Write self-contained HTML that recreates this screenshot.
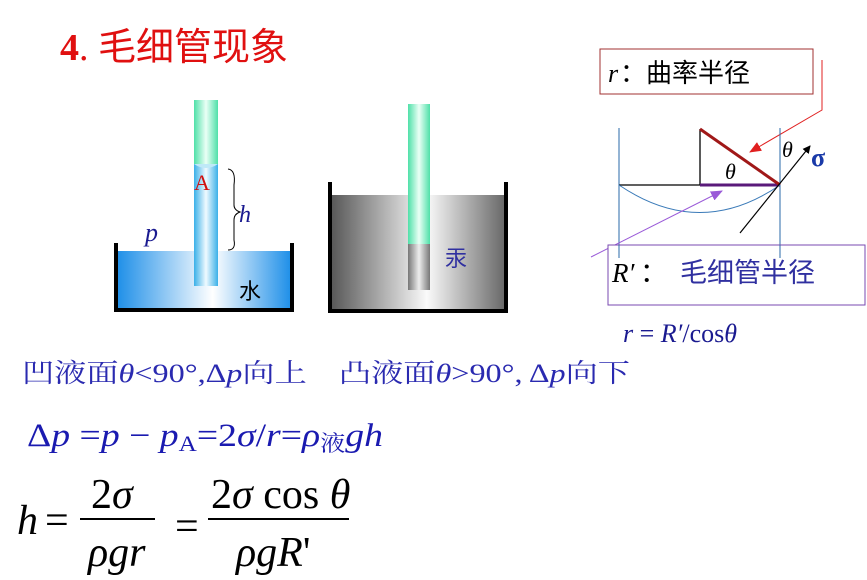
<!DOCTYPE html>
<html><head><meta charset="utf-8"><style>
html,body{margin:0;padding:0;background:#fff;}
svg{display:block;}
.s{font-family:"Liberation Serif","Noto Serif CJK SC",serif;}
.c{font-family:"Liberation Sans","Noto Sans CJK SC",sans-serif;}
</style></head><body>
<svg width="867" height="580" viewBox="0 0 867 580" xmlns="http://www.w3.org/2000/svg">
<defs>
<linearGradient id="water" x1="0" x2="1"><stop offset="0" stop-color="#1e8fe8"/><stop offset="0.55" stop-color="#ffffff"/><stop offset="1" stop-color="#1e8fe8"/></linearGradient>
<linearGradient id="merc" x1="0" x2="1"><stop offset="0" stop-color="#555"/><stop offset="0.55" stop-color="#fafafa"/><stop offset="1" stop-color="#666"/></linearGradient>
<linearGradient id="tubeG" x1="0" x2="1"><stop offset="0" stop-color="#4fe0a8"/><stop offset="0.5" stop-color="#eafff6"/><stop offset="1" stop-color="#4fe0a8"/></linearGradient>
<linearGradient id="tubeB" x1="0" x2="1"><stop offset="0" stop-color="#3ab0e8"/><stop offset="0.5" stop-color="#f0faff"/><stop offset="1" stop-color="#3ab0e8"/></linearGradient>
<linearGradient id="tubeM" x1="0" x2="1"><stop offset="0" stop-color="#777"/><stop offset="0.5" stop-color="#eee"/><stop offset="1" stop-color="#777"/></linearGradient>
<marker id="ar" markerWidth="8" markerHeight="8" refX="7" refY="4" orient="auto" markerUnits="userSpaceOnUse"><path d="M0,0 L8,4 L0,8 z" fill="#000"/></marker>
<marker id="arR" markerWidth="12" markerHeight="10" refX="11" refY="5" orient="auto" markerUnits="userSpaceOnUse"><path d="M0,0 L12,5 L0,10 z" fill="#e02020"/></marker>
<marker id="arP" markerWidth="12" markerHeight="10" refX="11" refY="5" orient="auto" markerUnits="userSpaceOnUse"><path d="M0,0 L12,5 L0,10 z" fill="#9a5ad8"/></marker>
</defs>

<text x="60" y="60" class="s" font-size="38" font-weight="bold" fill="#e01010">4<tspan font-weight="normal">.</tspan> <tspan class="c" font-weight="normal" font-size="38">毛细管现象</tspan></text>

<!-- beaker 1 -->
<rect x="117" y="251" width="174" height="58" fill="url(#water)"/>
<path d="M116,243 V310 H292 V243" fill="none" stroke="#000" stroke-width="4"/>
<rect x="194" y="100" width="24" height="64" fill="url(#tubeG)"/>
<rect x="194" y="164" width="24" height="122" fill="url(#tubeB)"/>
<path d="M194,164 Q206,172 218,164" fill="#bfe9f7" stroke="none"/>
<text x="194" y="190" class="s" font-size="22" fill="#d01010">A</text>
<path d="M228,169 Q236,170 234,185 L234,205 Q234,210 240,212 Q234,214 234,220 L234,240 Q236,250 228,250" fill="none" stroke="#000" stroke-width="1"/>
<text x="239" y="222" class="s" font-style="italic" font-size="24" fill="#1a1a90">h</text>
<text x="145" y="241" class="s" font-style="italic" font-size="26" fill="#1a1a90">p</text>
<text x="239" y="299" class="c" font-size="22" fill="#000">水</text>

<!-- beaker 2 -->
<rect x="330" y="195" width="176" height="114" fill="url(#merc)"/>
<path d="M330,182 V311 H506 V182" fill="none" stroke="#000" stroke-width="4"/>
<rect x="408" y="104" width="22" height="140" fill="url(#tubeG)"/>
<rect x="408" y="244" width="22" height="46" fill="url(#tubeM)"/>
<text x="445" y="266" class="c" font-size="22" fill="#3030a0">汞</text>

<!-- right diagram -->
<rect x="600" y="49" width="213" height="45" fill="#fff" stroke="#a03030" stroke-width="1"/>
<text x="608" y="82" class="s" font-style="italic" font-size="26" fill="#000">r</text>
<text x="620" y="82" class="c" font-size="26" fill="#000">：曲率半径</text>
<path d="M822,60 V110 L750,152" fill="none" stroke="#e02020" stroke-width="1" marker-end="url(#arR)"/>
<line x1="619" y1="128" x2="619" y2="258" stroke="#2a6aa8" stroke-width="1"/>
<line x1="780" y1="128" x2="780" y2="258" stroke="#2a6aa8" stroke-width="1"/>
<line x1="619" y1="185" x2="700" y2="185" stroke="#000" stroke-width="1.3"/>
<line x1="700" y1="129" x2="700" y2="185" stroke="#000" stroke-width="1.3"/>
<line x1="700" y1="185" x2="780" y2="185" stroke="#5a1a7a" stroke-width="3"/>
<line x1="700" y1="129" x2="780" y2="185" stroke="#a01818" stroke-width="3"/>
<path d="M619,185 Q700,240 780,185" fill="none" stroke="#3a7ab8" stroke-width="1"/>
<line x1="740" y1="233" x2="810" y2="146" stroke="#000" stroke-width="1.2" marker-end="url(#ar)"/>
<text x="725" y="179" class="s" font-style="italic" font-size="22" fill="#000">θ</text>
<text x="782" y="157" class="s" font-style="italic" font-size="22" fill="#000">θ</text>
<text x="811" y="166" class="s" font-size="26" font-weight="bold" fill="#1a3aa8">σ</text>
<path d="M591,257 L722,191" fill="none" stroke="#9a5ad8" stroke-width="1" marker-end="url(#arP)"/>
<rect x="608" y="245" width="257" height="60" fill="#fff" stroke="#7a4ab0" stroke-width="1"/>
<line x1="780" y1="245" x2="780" y2="258" stroke="#2a6aa8" stroke-width="1"/>
<line x1="619" y1="245" x2="619" y2="258" stroke="#2a6aa8" stroke-width="1"/>
<text x="612" y="282" class="s" font-style="italic" font-size="27" fill="#000">R′</text>
<text x="640" y="282" class="c" font-size="27" fill="#000">：</text>
<text x="680" y="282" class="c" font-size="27" fill="#3030a0">毛细管半径</text>
<text x="623" y="342" class="s" font-size="26" fill="#1a1a90"><tspan font-style="italic">r</tspan> = <tspan font-style="italic">R′</tspan>/cos<tspan font-style="italic">θ</tspan></text>

<!-- text line -->
<text x="22" y="382" class="s" font-size="26" fill="#2a2ab0" textLength="608" lengthAdjust="spacingAndGlyphs">凹液面<tspan font-style="italic">θ</tspan>&lt;90°,Δ<tspan font-style="italic">p</tspan>向上　凸液面<tspan font-style="italic">θ</tspan>&gt;90°, Δ<tspan font-style="italic">p</tspan>向下</text>

<text x="27" y="446" class="s" font-size="33" fill="#1a1ab0" textLength="356" lengthAdjust="spacingAndGlyphs">Δ<tspan font-style="italic">p</tspan> =<tspan font-style="italic">p</tspan> − <tspan font-style="italic">p</tspan><tspan font-size="22" dy="5">A</tspan><tspan dy="-5">=2</tspan><tspan font-style="italic">σ</tspan>/<tspan font-style="italic">r</tspan>=<tspan font-style="italic">ρ</tspan><tspan font-size="22" dy="5">液</tspan><tspan dy="-5" font-style="italic">gh</tspan></text>

<!-- fraction formula -->
<g class="s" fill="#000" font-size="42">
<text x="17" y="534" font-style="italic">h</text>
<text x="45" y="534">=</text>
<text x="91" y="508">2<tspan font-style="italic">σ</tspan></text>
<line x1="80" y1="519" x2="155" y2="519" stroke="#000" stroke-width="2"/>
<text x="88" y="566" font-style="italic">ρgr</text>
<text x="175" y="540">=</text>
<text x="211" y="508">2<tspan font-style="italic">σ</tspan> cos <tspan font-style="italic">θ</tspan></text>
<line x1="208" y1="519" x2="349" y2="519" stroke="#000" stroke-width="2"/>
<text x="236" y="566" font-style="italic">ρgR<tspan font-style="normal">'</tspan></text>
</g>
</svg>
</body></html>
